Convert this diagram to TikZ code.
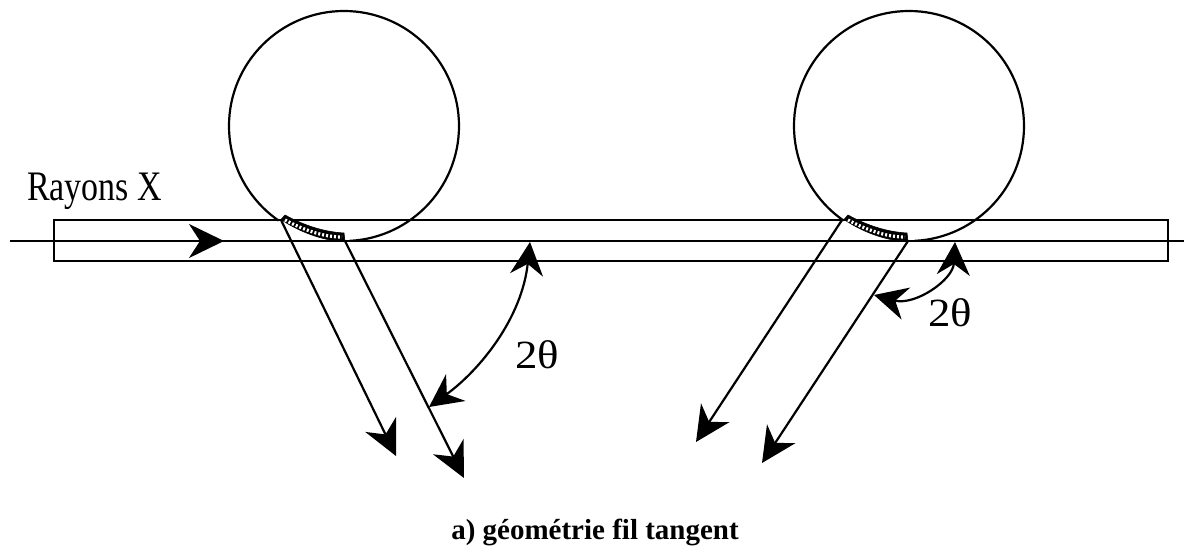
\documentclass[tikz,border=0pt]{standalone}
\usepackage{fontspec}
\setmainfont{Liberation Serif}
\usetikzlibrary{arrows.meta}
\tikzset{trait/.style={line width=2.2pt, black}}
\tikzset{fleche/.style={trait, -{Stealth[length=35pt,width=34pt,inset=11pt]}}}
\tikzset{flechedouble/.style={trait, {Stealth[length=33pt,width=33pt,inset=11pt]}-{Stealth[length=33pt,width=33pt,inset=11pt]}}}
\tikzset{angle2t/.style={xscale=1.12, font=\fontsize{40}{40}\selectfont}}

\begin{document}
\begin{tikzpicture}[x=1pt,y=-1pt]
  \useasboundingbox (0,0) rectangle (1186,549);

  % fil
  \foreach \i in {0,565} {
    \draw [trait] (344+\i,126) circle [radius=115];
    \draw [fill=white, draw=white] (278+\i,222) .. controls (298+\i,236) and (322+\i,244) .. (349+\i,244) -- (349+\i,232) -- (286+\i,214) -- cycle;
  }

  % tube et faisceau
  \draw [trait] (54,220) rectangle (1168,261);
  \draw [trait] (10,241) -- (1184,241);
  \draw [fleche] (60,241) -- (224,241);

  \node (rayons) at (94.5,191) [xscale=0.97, yscale=1.2] {\fontsize{35}{35}\selectfont Rayons X};

  % zone irradiee
  \foreach \i in {0,563} {
    \draw [fill=black, draw=black, line width=0.6pt] (281+\i,219.5) .. controls (298+\i,231) and (322+\i,241) .. (345+\i,241.5) -- (344+\i,233) .. controls (325+\i,232) and (305+\i,226) .. (285+\i,215) -- cycle;
    \draw [white, line width=3.2pt, dash pattern=on 2pt off 2pt] (285+\i,220) .. controls (302+\i,229) and (322+\i,237) .. (342+\i,237);
  }

  % rayons diffractes
  \coordinate (g1) at (281,220);
  \coordinate (g2) at (345,241);
  \coordinate (d1) at (842,220);
  \coordinate (d2) at (908,241);
  \coordinate (tg1) at (396,456);
  \coordinate (tg2) at (464,478);
  \coordinate (td1) at (696,442);
  \coordinate (td2) at (762,463);
  \draw [fleche] (g1) -- (tg1);
  \draw [fleche] (g2) -- (tg2);
  \draw [fleche] (d1) -- (td1);
  \draw [fleche] (d2) -- (td2);

  % angles
  \coordinate (ag1) at (530,242);
  \coordinate (ag2) at (429,407);
  \coordinate (ad1) at (955,242);
  \coordinate (ad2) at (874,295);
  \draw [flechedouble] (ag1) .. controls (522,318) and (480,370) .. (ag2);
  \draw [flechedouble] (ad1) .. controls (953,280) and (915,306) .. (ad2);
  \node [angle2t] (angleg) at (537.5,355) {2θ};
  \node [angle2t] (angled) at (950,313) {2θ};

  \node [anchor=base] (legende) at (595,539) {\fontsize{29}{29}\selectfont\bfseries a) géométrie fil tangent};
\end{tikzpicture}
\end{document}
